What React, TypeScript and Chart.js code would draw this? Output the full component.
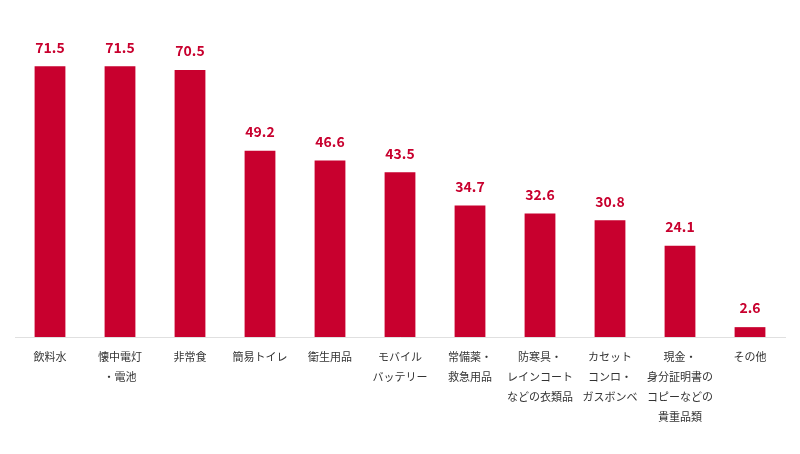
import { Chart, registerables, type ChartConfiguration, type Plugin } from "chart.js";
import { useEffect, useRef } from "react";

Chart.register(...registerables);

const categories: string[][] = [
  ["飲料水"],
  ["懐中電灯", "・電池"],
  ["非常食"],
  ["簡易トイレ"],
  ["衛生用品"],
  ["モバイル", "バッテリー"],
  ["常備薬・", "救急用品"],
  ["防寒具・", "レインコート", "などの衣類品"],
  ["カセット", "コンロ・", "ガスボンベ"],
  ["現金・", "身分証明書の", "コピーなどの", "貴重品類"],
  ["その他"],
];
const values: number[] = [71.5, 71.5, 70.5, 49.2, 46.6, 43.5, 34.7, 32.6, 30.8, 24.1, 2.6];

const RED = "#C8002E";
const FONT = "'Noto Sans CJK JP', 'Noto Sans', sans-serif";

const valueLabels: Plugin<"bar"> = {
  id: "valueLabels",
  afterDatasetsDraw(chart) {
    const { ctx } = chart;
    const meta = chart.getDatasetMeta(0);
    ctx.save();
    ctx.fillStyle = RED;
    ctx.font = `bold 14px ${FONT}`;
    ctx.textAlign = "center";
    ctx.textBaseline = "bottom";
    meta.data.forEach((bar, i) => {
      ctx.fillText(values[i].toFixed(1), bar.x, bar.y - 12);
    });
    ctx.restore();
  },
};

const App = () => {
  const canvasRef = useRef<HTMLCanvasElement | null>(null);

  useEffect(() => {
    document.body.style.margin = "0";
    if (!canvasRef.current) return;
    const config: ChartConfiguration<"bar", number[], string[]> = {
      type: "bar",
      data: {
        labels: categories,
        datasets: [
          {
            data: values,
            backgroundColor: RED,
            barPercentage: 0.44,
            categoryPercentage: 1,
          },
        ],
      },
      options: {
        animation: false,
        responsive: false,
        layout: { padding: { top: 34, left: 15, right: 15, bottom: 0 } },
        plugins: {
          legend: { display: false },
          tooltip: { enabled: false },
        },
        scales: {
          x: {
            grid: { display: false },
            border: { display: true, color: "#e0e0e0", width: 1 },
            ticks: {
              color: "#333",
              padding: 2,
              maxRotation: 0,
              autoSkip: false,
              font: { family: FONT, size: 11, lineHeight: 1.82 },
            },
            afterFit: (scale) => {
              scale.height = 117;
            },
          },
          y: {
            display: false,
            min: 0,
            max: 80,
          },
        },
      },
      plugins: [valueLabels],
    };
    const chart = new Chart(canvasRef.current, config);
    return () => chart.destroy();
  }, []);

  return (
    <div style={{ width: 800, height: 454, background: "#fff" }}>
      <canvas ref={canvasRef} width={800} height={454} />
    </div>
  );
};

export default App;
